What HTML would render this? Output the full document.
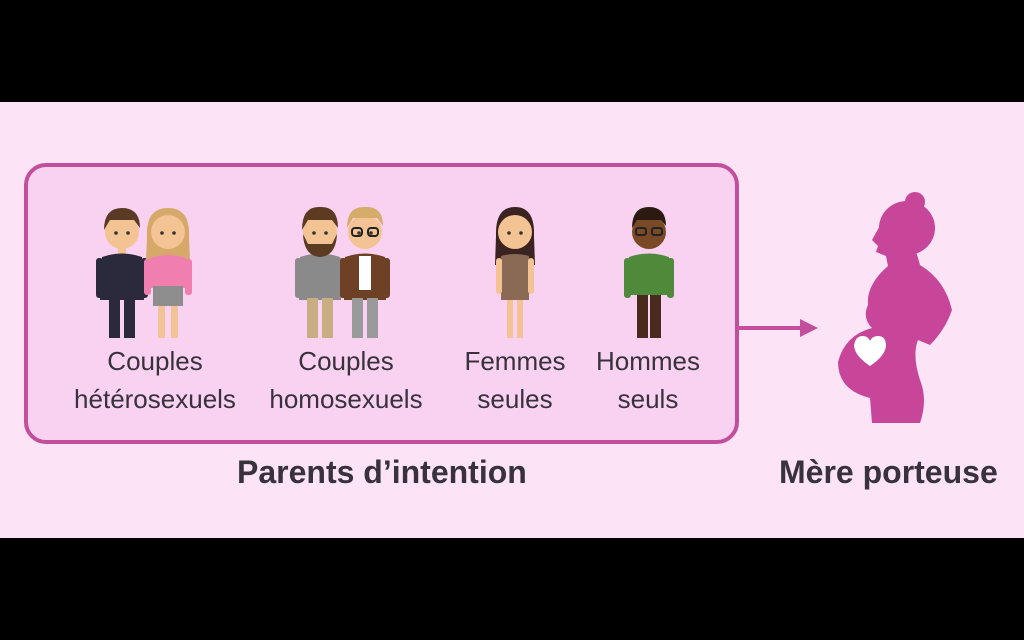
<!DOCTYPE html>
<html><head><meta charset="utf-8"><style>
html,body{margin:0;padding:0;background:#000;}
body{width:1024px;height:640px;position:relative;overflow:hidden;font-family:"Liberation Sans",sans-serif;}
.bg{position:absolute;left:0;top:102px;width:1024px;height:436px;background:#fce3f5;}
.box{position:absolute;left:24px;top:163px;width:707px;height:273px;border:4px solid #c24f9c;border-radius:22px;background:#f9d2f1;}
.t{position:absolute;color:#37323c;font-size:26px;text-align:center;line-height:38px;}
.b{position:absolute;color:#37323c;font-size:32px;font-weight:bold;}
</style></head><body>
<div class="bg"></div>
<div class="box"></div>
<svg width="1024" height="640" style="position:absolute;left:0;top:0">
<defs>
<g id="head"><circle cx="0" cy="232" r="17" fill="#f3c393"/><circle cx="-6" cy="233" r="1.8" fill="#333"/><circle cx="6" cy="233" r="1.8" fill="#333"/></g>
</defs>
<g transform="translate(122,0)">
<rect x="-4" y="247" width="8" height="8" fill="#f3c393"/>
<path d="M-20 257 Q0 250 20 257 L22 300 L-22 300Z" fill="#2b2a3c"/>
<rect x="-26" y="258" width="7" height="40" rx="3" fill="#2b2a3c"/><rect x="19" y="258" width="7" height="40" rx="3" fill="#2b2a3c"/>
<rect x="-13" y="298" width="11" height="40" fill="#2b2a3c"/><rect x="2" y="298" width="11" height="40" fill="#2b2a3c"/>
<use href="#head"/><path d="M-18 230 Q-18 208 0 208 Q18 208 18 228 L12 220 L-12 220Z" fill="#5a3a25"/>
</g>
<g transform="translate(168,0)">
<path d="M-21 236 Q-22 208 0 208 Q22 208 21 236 L22 262 L-22 262Z" fill="#d6a86a"/>
<use href="#head"/>
<path d="M-18 258 Q0 252 18 258 L18 288 L-18 288Z" fill="#f07fb0"/>
<rect x="-24" y="259" width="7" height="36" rx="3" fill="#f07fb0"/><rect x="17" y="259" width="7" height="36" rx="3" fill="#f07fb0"/>
<rect x="-15" y="286" width="30" height="20" fill="#8e8e8e"/>
<rect x="-10" y="306" width="7" height="32" fill="#f3c393"/><rect x="3" y="306" width="7" height="32" fill="#f3c393"/>
</g>
<g transform="translate(320,0)">
<path d="M-20 257 Q0 250 20 257 L21 300 L-21 300Z" fill="#8a8a8a"/>
<rect x="-25" y="258" width="7" height="40" rx="3" fill="#8a8a8a"/><rect x="18" y="258" width="7" height="40" rx="3" fill="#8a8a8a"/>
<rect x="-13" y="298" width="11" height="40" fill="#c9ad83"/><rect x="2" y="298" width="11" height="40" fill="#c9ad83"/>
<use href="#head"/><path d="M-17 234 Q-16 256 0 257 Q16 256 17 234 L12 244 L-12 244Z" fill="#5c3b22"/>
<path d="M-18 230 Q-18 206 0 207 Q18 206 18 228 L12 220 L-12 220Z" fill="#5c3b22"/>
</g>
<g transform="translate(365,0)">
<path d="M-20 257 Q0 250 20 257 L21 300 L-21 300Z" fill="#6e4024"/><rect x="-6" y="256" width="12" height="34" fill="#fff"/>
<rect x="-25" y="258" width="7" height="40" rx="3" fill="#6e4024"/><rect x="18" y="258" width="7" height="40" rx="3" fill="#6e4024"/>
<rect x="-13" y="298" width="11" height="40" fill="#9a9a9a"/><rect x="2" y="298" width="11" height="40" fill="#9a9a9a"/>
<use href="#head"/><path d="M-18 228 Q-18 206 0 207 Q18 206 18 226 L12 218 L-12 218Z" fill="#d6ac6a"/>
<rect x="-13" y="228" width="10" height="8" rx="3" fill="none" stroke="#222" stroke-width="2"/><rect x="3" y="228" width="10" height="8" rx="3" fill="none" stroke="#222" stroke-width="2"/>
</g>
<g transform="translate(515,0)">
<path d="M-19 236 Q-20 207 0 207 Q20 207 19 236 L20 265 L-20 265Z" fill="#3a2320"/>
<use href="#head"/>
<path d="M-14 256 Q0 252 14 256 L14 300 L-14 300Z" fill="#8a6a55"/>
<rect x="-19" y="258" width="6" height="36" rx="3" fill="#f3c393"/><rect x="13" y="258" width="6" height="36" rx="3" fill="#f3c393"/>
<rect x="-8" y="300" width="6" height="38" fill="#f3c393"/><rect x="2" y="300" width="6" height="38" fill="#f3c393"/>
</g>
<g transform="translate(649,0)">
<path d="M-20 257 Q0 250 20 257 L21 295 L-21 295Z" fill="#4f8a3a"/>
<rect x="-25" y="258" width="7" height="40" rx="3" fill="#4f8a3a"/><rect x="18" y="258" width="7" height="40" rx="3" fill="#4f8a3a"/>
<rect x="-12" y="295" width="11" height="43" fill="#4a2a1c"/><rect x="1" y="295" width="11" height="43" fill="#4a2a1c"/>
<circle cx="0" cy="232" r="17" fill="#7a4a26"/><path d="M-17 228 Q-17 207 0 207 Q17 207 17 226 L12 220 L-12 220Z" fill="#2a1a12"/>
<rect x="-13" y="228" width="10" height="7" rx="2" fill="none" stroke="#222" stroke-width="2"/><rect x="3" y="228" width="10" height="7" rx="2" fill="none" stroke="#222" stroke-width="2"/>
</g>
<line x1="735" y1="328" x2="804" y2="328" stroke="#c24f9c" stroke-width="4"/>
<path d="M800 319 L818 328 L800 337Z" fill="#c24f9c"/>
<g fill="#c7469a">
<circle cx="915" cy="202" r="10"/>
<ellipse cx="907" cy="228" rx="28" ry="27"/>
<path d="M882 222 L872 240 L878 246 L876 252 L886 256 L888 266 Q866 285 868 305 Q862 318 872 328 Q845 335 838 362 Q838 390 870 398 L872 423 L920 423 Q928 400 920 380 Q912 355 918 340 L930 345 Q945 330 952 310 Q945 280 920 265 L915 248 Z"/>
</g>
<path d="M870 366 Q855 356 854 346 Q855 336 863 336 Q868 336 870 341 Q872 336 878 336 Q886 336 886 346 Q885 356 870 366Z" fill="#fff"/>
</svg>
<div class="t" style="left:55px;top:342px;width:200px">Couples<br>hétérosexuels</div>
<div class="t" style="left:246px;top:342px;width:200px">Couples<br>homosexuels</div>
<div class="t" style="left:445px;top:342px;width:140px">Femmes<br>seules</div>
<div class="t" style="left:578px;top:342px;width:140px">Hommes<br>seuls</div>
<div class="b" style="left:237px;top:454px">Parents d’intention</div>
<div class="b" style="left:779px;top:454px">Mère porteuse</div>
</body></html>
